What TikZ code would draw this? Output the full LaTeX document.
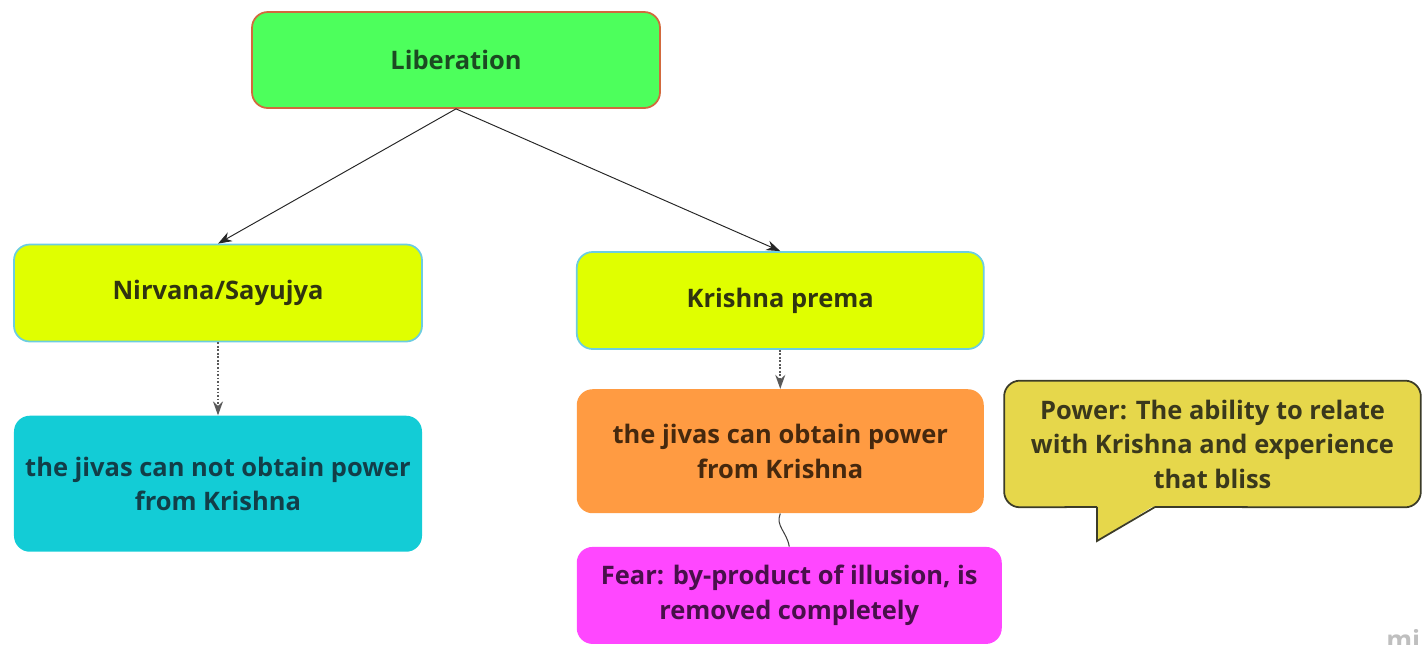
\documentclass[tikz,border=0pt]{standalone}
\usepackage{fontspec}
\setmainfont{Open Sans}[BoldFont={* Bold}]
\usepackage{xcolor}
\usepackage{tikz}
\usetikzlibrary{arrows.meta,positioning}

\definecolor{libfill}{HTML}{4DFF5C}
\definecolor{libline}{HTML}{D2693C}
\definecolor{libtext}{HTML}{1C4A22}
\definecolor{limefill}{HTML}{E0FF00}
\definecolor{limeline}{HTML}{6CCDE0}
\definecolor{limetext}{HTML}{303410}
\definecolor{cyanfill}{HTML}{13CCD6}
\definecolor{cyantext}{HTML}{123E48}
\definecolor{orangefill}{HTML}{FF9B42}
\definecolor{orangetext}{HTML}{45280E}
\definecolor{pinkfill}{HTML}{FF47FF}
\definecolor{pinktext}{HTML}{48104A}
\definecolor{notefill}{HTML}{E6D74B}
\definecolor{noteline}{HTML}{3C3C28}
\definecolor{notetext}{HTML}{3A381C}

\begin{document}
\begin{tikzpicture}[>={Stealth[length=2.8mm,width=2mm]}, node distance=7mm,
  every node/.style={font=\fontsize{14.5}{19.6}\selectfont\bfseries, align=center},
  topic/.style={rounded corners=9pt, minimum width=8.16cm, inner sep=0pt},
  link/.style={->, black!85, line width=0.55pt},
  dots/.style={->, black!65, densely dotted, line width=1pt}]
  \useasboundingbox (0,0) rectangle (28.48,-12.9);
  \node (lib) [topic, draw=libline, line width=1pt, fill=libfill, text=libtext, minimum height=1.92cm] at (9.12,-1.2) {Liberation};
  \node (nirv) [topic, draw=limeline, line width=1pt, fill=limefill, text=limetext, minimum height=1.94cm] at (4.36,-5.86) {Nirvana/Sayujya};
  \node (prema) [topic, draw=limeline, line width=1pt, fill=limefill, text=limetext, minimum width=8.14cm, minimum height=1.94cm, right=3.06cm of nirv, yshift=-0.15cm] {Krishna prema};
  \node (nopow) [topic, fill=cyanfill, text=cyantext, minimum height=2.72cm, below=1.46cm of nirv] {the jivas can not obtain power\\from Krishna};
  \node (pow) [topic, fill=orangefill, text=orangetext, minimum width=8.14cm, minimum height=2.48cm, below=0.78cm of prema] {the jivas can obtain power\\from Krishna};
  \node (fear) [topic, fill=pinkfill, text=pinktext, minimum width=8.5cm, minimum height=1.94cm, below=0.66cm of pow, xshift=0.18cm] {Fear: by-product of illusion, is\\removed completely};
  \node (note) [topic, minimum width=8.32cm, minimum height=2.52cm, text=notetext] at (24.25,-8.88) {};
  % callout bubble
  \fill[notefill, rounded corners=9pt] (note.south west) rectangle (note.north east);
  \coordinate (tip) at (21.94,-10.82);
  \fill[notefill] (21.94,-10.1) -- (tip) -- (23.1,-10.1) -- cycle;
  \draw[noteline, line width=1pt, rounded corners=9pt] (23.1,-10.14) -- (note.south east) -- (note.north east) -- (note.north west) -- (note.south west) -- (21.94,-10.14);
  \draw[noteline, line width=1pt, line join=miter] (21.94,-10.14) -- (tip) -- (23.1,-10.14);
  \node (notetxt) [text=notetext] at (note.center) {Power: The ability to relate\\with Krishna and experience\\that bliss};
  \node (mark) [anchor=south west, text=black!25, font=\fontsize{15}{15}\selectfont\bfseries, inner sep=0pt] at (27.72,-13.0) {mi};
  \draw[link] (lib.south) -- (nirv.north);
  \draw[link] (lib.south) -- (prema.north);
  \draw[dots] (nirv.south) -- (nopow.north);
  \draw[dots] (prema.south) -- (pow.north);
  \draw[black!75, line width=0.6pt] (pow.south) .. controls +(-0.1,-0.25) and +(-0.05,0.3) .. (fear.north);
\end{tikzpicture}
\end{document}
